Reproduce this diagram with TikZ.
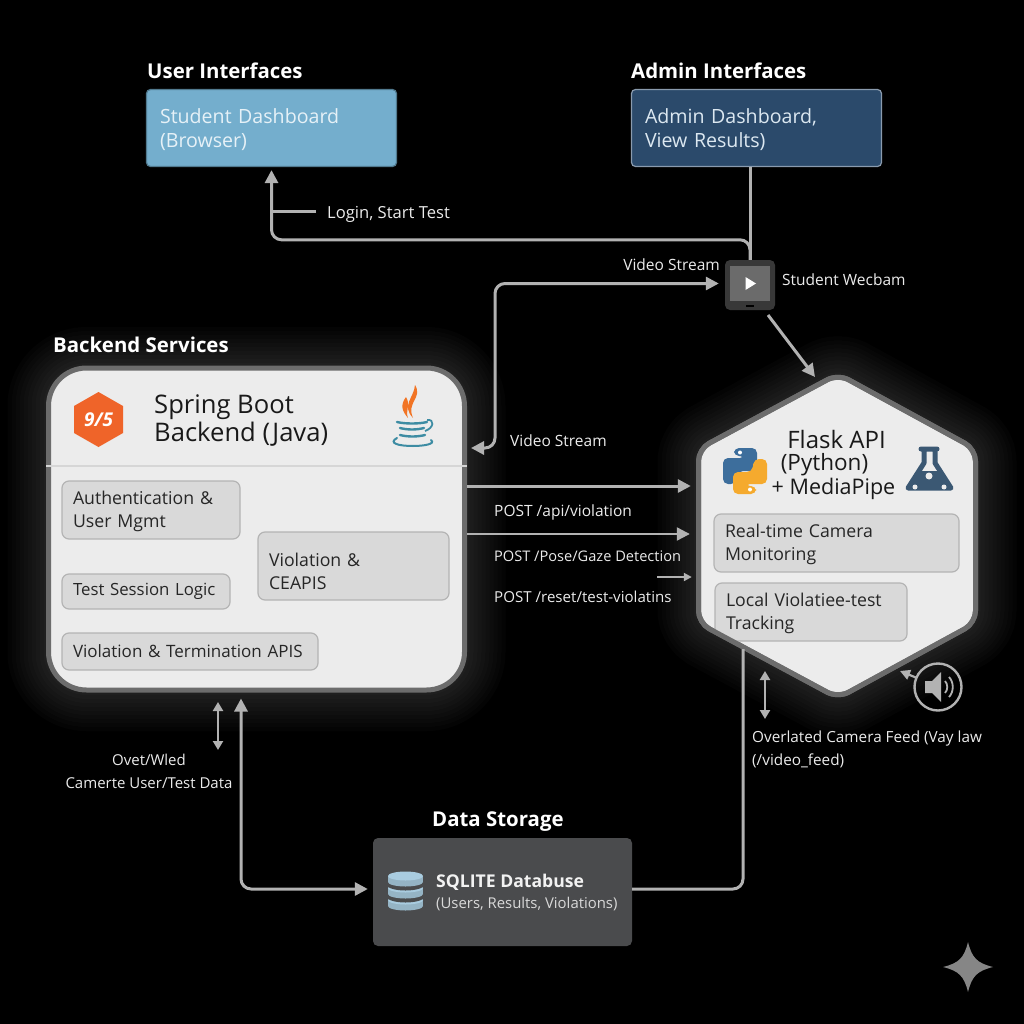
\documentclass[tikz,border=0pt]{standalone}
\usepackage{fontspec}
\setmainfont{Open Sans}
\usetikzlibrary{arrows.meta,positioning,calc}
\definecolor{linkgray}{HTML}{B2B2B2}
\definecolor{panelfill}{HTML}{ECECEC}
\definecolor{panelrim}{HTML}{6C6C6C}
\definecolor{unitfill}{HTML}{D9D9D9}
\definecolor{unitrim}{HTML}{B4B4B4}
\definecolor{studentblue}{HTML}{74AECD}
\definecolor{studenttext}{HTML}{E6F1F7}
\definecolor{adminblue}{HTML}{2B4A6B}
\definecolor{admintext}{HTML}{DCE8F1}
\definecolor{dbfill}{HTML}{4A4B4D}
\definecolor{dbblue}{HTML}{A9CCE0}
\definecolor{springorange}{HTML}{EF6429}
\definecolor{javateal}{HTML}{3D8CA3}
\definecolor{pyblue}{HTML}{3D6E9C}
\definecolor{pyyellow}{HTML}{F5AA2E}
\definecolor{flaskblue}{HTML}{3B5873}
\newcommand{\lsize}[1]{\fontsize{#1}{23}\selectfont}
\tikzset{
    link/.style = {draw=linkgray, line width=3pt, rounded corners=10pt},
    thinlink/.style = {draw=linkgray, line width=2.2pt},
    label/.style = {text=white!92!black, font=\lsize{15.5}, inner sep=0pt, align=left},
    head/.style = {text=white, font=\bfseries\fontsize{20.4}{25}\selectfont, inner sep=0pt},
    iface/.style = {line width=1.2pt, fill=#1, rounded corners=4pt,
        minimum height=77pt, text width=223pt, inner xsep=13.5pt, align=left,
        execute at begin node={\rule{0pt}{18pt}},
        font=\fontsize{19.6}{24.5}\selectfont},
    unit/.style = {draw=unitrim, line width=1.2pt, fill=unitfill, rounded corners=7pt,
        text=black!85, align=left, inner xsep=11pt, text width=#1,
        font=\fontsize{17.7}{23}\selectfont},
    glowline/.style = {draw=white, opacity=.017, line join=round},
}
\newcommand{\flaskpath}{(838,374) -- (975.5,449) -- (975.5,623) -- (838,698) -- (698.5,623) -- (698.5,449) -- cycle}
\begin{document}
\begin{tikzpicture}[x=1pt,y=-1pt,>={Triangle[length=13pt,width=13pt]}]
    \fill[black] (0,0) rectangle (1024,1024);
    \useasboundingbox (0,0) rectangle (1024,1024);

    \foreach \w in {10,18,...,82} {
        \draw[glowline,line width=\w pt,rounded corners=38pt] (48.5,368) rectangle (464.5,690);
        \draw[glowline,line width=\w pt,rounded corners=12pt] \flaskpath;
    }

    \node [iface=studentblue,draw=studentblue!70!black,text=studenttext] (student) at (271.5,128) {Student Dashboard\\(Browser)};
    \node [iface=adminblue,draw=adminblue!55!white,text=admintext,right of=student,node distance=485pt] (admin) {Admin Dashboard,\\View Results)};
    \node [head,anchor=west] (userhead) at (147,71) {User Interfaces};
    \node [head,anchor=west] (adminhead) at (631,71) {Admin Interfaces};
    \node [head,anchor=west] (backhead) at (53,345) {Backend Services};
    \node [head,anchor=west] (datahead) at (432,822) {Data Storage};

    \node [draw=panelrim,line width=5pt,fill=panelfill,rounded corners=38pt,minimum width=416pt,minimum height=322pt] (backend) at (256.5,529) {};
    \coordinate (rule) at (0,466);
    \draw[unitrim!55!white,line width=1.5pt] (backend.west |- rule) -- (backend.east |- rule);
    \node [anchor=west,text=black!90,align=left,inner sep=0pt,font=\fontsize{25.6}{28}\selectfont] (springname) at (154,421) {Spring Boot\\Backend (Java)};
    \node [unit=156pt,minimum height=58pt,execute at begin node={\rule{0pt}{16pt}}] (auth) at (151,510) {Authentication \&\\User Mgmt};
    \node [unit=146pt,minimum height=35pt,font=\fontsize{16.8}{23}\selectfont] (session) at (146,591.5) {\mbox{Test Session Logic}};
    \node [unit=169pt,minimum height=68pt,execute at begin node={\rule{0pt}{25pt}}] (violation) at (353.5,566) {Violation \&\\CEAPIS};
    \node [unit=234pt,minimum height=37pt,font=\fontsize{17}{23}\selectfont] (termination) at (190,651.5) {\mbox{Violation \& Termination APIS}};

    \fill[springorange] (98.5,392) -- (123,406) -- (123,433) -- (98.5,447) -- (74,433) -- (74,406) -- cycle;
    \node [text=white,inner sep=0pt,font=\bfseries\itshape\fontsize{19}{20}\selectfont] (springmark) at (98.5,419.5) {9/5};
    \fill[springorange!90!yellow] (415,385) .. controls (423,398) and (406,402) .. (413,418) .. controls (401,405) and (414,398) .. (415,385) -- cycle;
    \fill[springorange!90!yellow] (406,397) .. controls (400,405) and (402,411) .. (408,418) .. controls (405,410) and (411,405) .. (406,397) -- cycle;
    \foreach \y/\a/\b in {422/397/427,428/400/424,435/400/425} {
        \draw[javateal,line width=2.4pt,line cap=round] (\a,\y) .. controls (\a+8,\y+2) and (\b-8,\y+2) .. (\b,\y);
    }
    \draw[javateal,line width=1.8pt] (427,420) .. controls (435,419) and (434,428) .. (425,431);
    \draw[javateal,line width=2pt,line cap=round] (397,438) .. controls (388,443) and (398,446) .. (413,446) .. controls (424,446) and (436,444) .. (431,440);

    \fill[panelfill,draw=panelrim,line width=5pt,line join=round,rounded corners=12pt] \flaskpath;
    \node [minimum width=279pt,minimum height=320pt,inner sep=0pt] (flask) at (836.5,536) {};
    \node [text=black!90,inner sep=0pt,font=\fontsize{24}{26}\selectfont] (flaskname) at (836.5,439) {Flask API};
    \node [text=black!90,inner sep=0pt,font=\fontsize{22.5}{26}\selectfont] (flasklang) at (824.5,465) {(Python)};
    \node [text=black!90,inner sep=0pt,font=\fontsize{21.5}{26}\selectfont] (flaskpipe) at (833.5,489) {+ MediaPipe};
    \begin{scope}
        \clip[rounded corners=12pt] \flaskpath;
        \node [unit=223pt,minimum height=58pt,execute at begin node={\rule{0pt}{16pt}}] (camera) at (836.5,543) {Real-time Camera\\Monitoring};
        \node [unit=170pt,minimum height=58pt,execute at begin node={\rule{0pt}{16pt}}] (tracking) at (811,612) {Local Violatiee-test\\Tracking};
    \end{scope}
    \draw[panelrim,line width=5pt,line join=round,rounded corners=12pt] \flaskpath;

    \fill[pyblue,rounded corners=5pt] (734,448) -- (757,448) -- (757,471) -- (738,471) -- (736,484) -- (723,484) -- (723,458) -- (745,458) -- (745,456) -- (734,456) -- cycle;
    \fill[pyyellow,rounded corners=5pt] (756,494) -- (733,494) -- (733,472) -- (752,472) -- (754,459) -- (767,459) -- (767,484) -- (745,484) -- (745,486) -- (756,486) -- cycle;
    \fill[white] (740,452.5) circle (2pt) (750,489.5) circle (2pt);

    \draw[flaskblue,line width=5pt,line join=round] (921,449) -- (937,449) -- (935,449) -- (935,463) -- (951,488) -- (908,488) -- (924,463) -- (924,449) -- cycle;
    \fill[flaskblue] (919,471) -- (940,471) -- (951,488) -- (908,488) -- cycle;
    \fill[panelfill] (929,476) circle (3.5pt) (915,487) circle (2.5pt) (944,487) circle (2.5pt);

    \node [draw=none,fill=black!78,rounded corners=5pt,minimum size=50pt] (webcam) at (750,285) {};
    \fill[black!58] (730,266) rectangle (770,301);
    \fill[white] (745.5,277) -- (756,283.5) -- (745.5,290) -- cycle;
    \fill[black] (746,305) rectangle (754,307);

    \node [draw=none,fill=dbfill,rounded corners=5pt,minimum width=259pt,minimum height=108pt] (dbase) at (502.5,892) {};
    \foreach \y in {900,888,876} {
        \fill[dbfill] (405.5,\y+9) ellipse [x radius=18.5,y radius=5.5];
        \fill[dbblue!88!black] (405.5,\y+6) ellipse [x radius=17.5,y radius=4.5];
        \fill[dbblue!88!black] (388,\y) rectangle (423,\y+6);
        \fill[dbblue] (405.5,\y) ellipse [x radius=17.5,y radius=4.5];
    }
    \node [anchor=west,text=white!95!black,inner sep=0pt,font=\bfseries\fontsize{17.6}{22}\selectfont] (dbname) at (436,882) {SQLITE Databuse};
    \node [anchor=west,text=white!85!black,inner sep=0pt,font=\fontsize{14.9}{18}\selectfont] (dbtables) at (436,904) {(Users, Results, Violations)};

    \node [label,anchor=west,font=\lsize{16.6}] (login) at (327,214) {Login, Start Test};
    \node [label,anchor=east] (streamup) at (720,265) {Video Stream};
    \node [label,anchor=west] (wecbam) at (782,280) {Student Wecbam};
    \node [label,anchor=west] (streamdown) at (510,441) {Video Stream};
    \node [label,anchor=west] (postapi) at (494,512) {POST /api/violation};
    \node [label,anchor=west,font=\lsize{14.6}] (postpose) at (494,556) {POST /Pose/Gaze Detection};
    \node [label,anchor=west,font=\lsize{15.1}] (postreset) at (494,597) {POST /reset/test-violatins};
    \node [label,anchor=west,font=\lsize{15.3}] (feedlabel) at (752,749) {Overlated Camera Feed (Vay law\\(/video\_feed)};
    \node [label,align=center,font=\lsize{15}] (datalabel) at (149,771) {Ovet/Wled\\Camerte User/Test Data};

    \draw[link,->,shorten >=3pt] (webcam.north) -- ++(0,-20) -| (student.south);
    \draw[link] (login.west) ++(-11,-2) -- (272,212);
    \draw[link] (webcam.north) -- (webcam.north |- admin.south);
    \coordinate (streamturn) at (495,448);
    \draw[link,<->,shorten >=4pt,shorten <=6pt] (webcam.west |- 0,283.5) -| (streamturn) -- (streamturn -| backend.east);
    \coordinate (camerain) at (815,377);
    \draw[link,->,rounded corners=0pt] (768,315) -- (camerain);
    \draw[link,->,shorten >=6pt] (backend.east |- 0,486) -- (flask.west |- 0,486);
    \draw[thinlink,->,shorten >=7pt] (backend.east |- 0,534) -- (flask.west |- 0,534);
    \coordinate (resetfrom) at (657,577);
    \draw[thinlink,-{Triangle[length=8pt,width=8pt]},shorten >=5pt] (resetfrom) -- (resetfrom -| flask.west);
    \coordinate (storeup) at (218,702);
    \coordinate (storedown) at (218,750);
    \draw[thinlink,{Triangle[length=9pt,width=10pt]}-{Triangle[length=9pt,width=10pt]}] (storeup) -- (storedown);
    \draw[link,<->,shorten >=6pt,shorten <=5pt] (dbase.west |- 0,889) -| ([xshift=-15.5pt]backend.south);
    \coordinate (feedtop) at (743,649);
    \draw[link] (dbase.east |- 0,889) -| (feedtop);
    \coordinate (feedup) at (765,671);
    \coordinate (feeddown) at (765,719);
    \draw[thinlink,{Triangle[length=9pt,width=10pt]}-{Triangle[length=9pt,width=10pt]}] (feedup) -- (feeddown);

    \node [circle,draw=linkgray,line width=2.4pt,minimum size=47pt,inner sep=0pt] (speaker) at (938,687) {};
    \fill[linkgray] (925,681) -- (932,681) -- (941,672) -- (941,702) -- (932,693) -- (925,693) -- cycle;
    \draw[linkgray,line width=1.8pt] (945,681) .. controls (948,684) and (948,690) .. (945,693);
    \draw[linkgray,line width=1.8pt] (949,677) .. controls (954,682) and (954,692) .. (949,697);
    \coordinate (speakertip) at (900,671);
    \draw[thinlink,-{Triangle[length=10pt,width=10pt]}] (speaker) ++(-21,-9) -- (speakertip);

    \fill[gray!95!white] (968,942) .. controls (972,958) and (977,963) .. (993,967) .. controls (977,971) and (972,976) .. (968,992) .. controls (964,976) and (959,971) .. (943,967) .. controls (959,963) and (964,958) .. (968,942) -- cycle;
\end{tikzpicture}
\end{document}
